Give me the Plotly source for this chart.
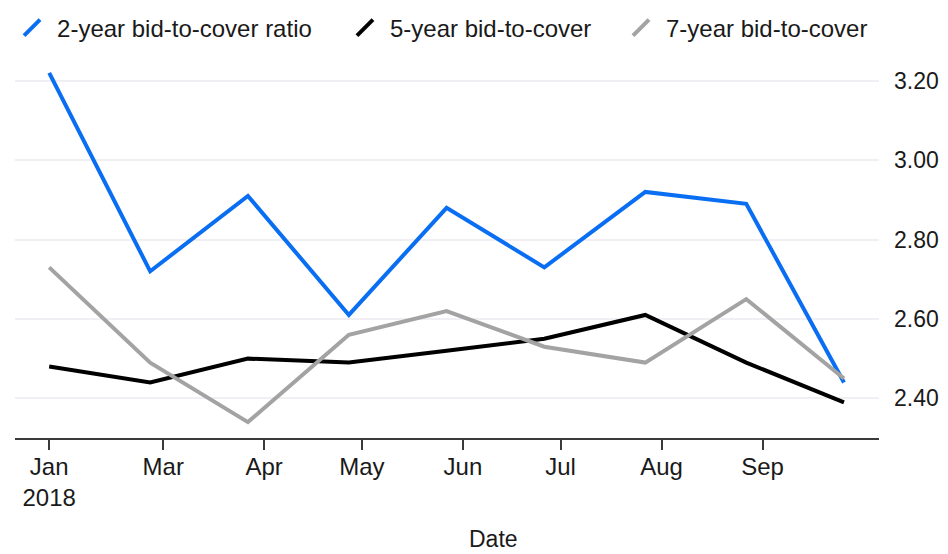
import plotly.graph_objects as go

dates = ["2018-01-25", "2018-02-25", "2018-03-27", "2018-04-27", "2018-05-27",
         "2018-06-26", "2018-07-27", "2018-08-27", "2018-09-26"]
two_year = [3.22, 2.72, 2.91, 2.61, 2.88, 2.73, 2.92, 2.89, 2.44]
five_year = [2.48, 2.44, 2.50, 2.49, 2.52, 2.55, 2.61, 2.49, 2.39]
seven_year = [2.73, 2.49, 2.34, 2.56, 2.62, 2.53, 2.49, 2.65, 2.45]

series_names = ["2-year bid-to-cover ratio", "5-year bid-to-cover", "7-year bid-to-cover"]
series_values = [two_year, five_year, seven_year]
colors = ["#0a6ef2", "#000000", "#a3a3a3"]

tick_vals = ["2018-01-25", "2018-03-01", "2018-04-01", "2018-05-01", "2018-06-01",
             "2018-07-01", "2018-08-01", "2018-09-01"]
tick_text = ["Jan<br>2018", "Mar", "Apr", "May", "Jun", "Jul", "Aug", "Sep"]
y_ticks = [2.40, 2.60, 2.80, 3.00, 3.20]

FONT = "Liberation Sans, Arial, sans-serif"
legend_ids = ["legend", "legend2", "legend3"]
legend_x = [-0.0092, 0.3761, 0.6956]

fig = go.Figure()
for name, vals, col, lid in zip(series_names, series_values, colors, legend_ids):
    fig.add_trace(go.Scatter(x=dates, y=vals, mode="lines", name=name,
                             line=dict(color=col, width=4),
                             legendgroup=name, showlegend=False))
    fig.add_trace(go.Scatter(x=[None], y=[None], mode="markers", name=name,
                             marker=dict(symbol="line-ne-open", size=16, color=col,
                                         line=dict(color=col, width=4)),
                             legendgroup=name, showlegend=True, legend=lid))

legend_common = dict(orientation="h", y=1.076, xanchor="left", yanchor="middle",
                     font=dict(size=24, color="#1a1a1a"), itemwidth=40,
                     bgcolor="rgba(0,0,0,0)")

layout_legends = {}
for lid, lx in zip(legend_ids, legend_x):
    layout_legends[lid] = dict(x=lx, **legend_common)

fig.update_layout(
    width=948, height=554,
    margin=dict(l=7, r=77, t=49, b=124, autoexpand=False),
    paper_bgcolor="white", plot_bgcolor="white",
    font=dict(family=FONT, size=24, color="#1a1a1a"),
    showlegend=True,
    xaxis=dict(
        type="date", automargin=False,
        range=["2018-01-14 12:00", "2018-10-06 18:00"],
        tickvals=tick_vals, ticktext=tick_text,
        showgrid=False, zeroline=False,
        showline=True, linecolor="#3a3a3a", linewidth=2,
        ticks="outside", ticklen=10, tickwidth=1.5, tickcolor="#3a3a3a",
        ticklabelstandoff=-4,
        tickfont=dict(size=24, color="#1a1a1a"),
    ),
    yaxis=dict(
        side="right", range=[2.30, 3.26], automargin=False,
        tickvals=y_ticks, tickformat=".2f",
        showgrid=True, gridcolor="#f1eff3", gridwidth=2,
        zeroline=False, showline=False, ticks="",
        ticklabelstandoff=14,
        tickfont=dict(size=23, color="#1a1a1a"),
    ),
    annotations=[dict(text="Date", xref="paper", yref="paper", x=0.554, y=-0.265,
                      xanchor="center", yanchor="middle", showarrow=False,
                      font=dict(size=23, color="#1a1a1a"))],
    **layout_legends,
)

fig.write_html("out.html")
